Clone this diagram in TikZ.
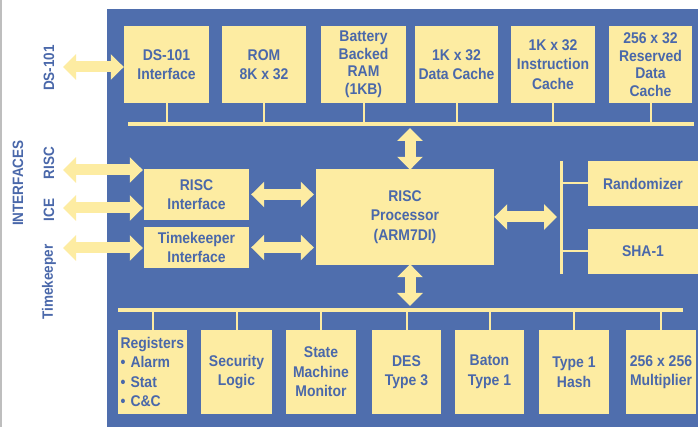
\documentclass[tikz,border=0pt]{standalone}
\usepackage{fontspec}
\setmainfont{Liberation Sans}[FakeStretch=0.9]
\usetikzlibrary{arrows.meta}
\definecolor{panel}{RGB}{79,110,173}
\definecolor{ylw}{RGB}{253,236,162}
\definecolor{txt}{RGB}{74,104,170}
\definecolor{edgegray}{RGB}{190,190,190}
\newcommand\bxfont{\fontsize{15.5pt}{19.5pt}\selectfont\bfseries}
\newcommand\bxtight{\fontsize{15.5pt}{17.5pt}\selectfont\bfseries}
\newcommand\lbfont{\fontsize{15pt}{18pt}\selectfont\bfseries}
\tikzset{
  box/.style={fill=ylw, draw=none, inner sep=0pt, align=center, text=txt, font=\bxfont},
  topbox/.style={box, minimum height=77pt},
  botbox/.style={box, minimum height=84pt},
  lbl/.style={rotate=90, text=txt, font=\lbfont, inner sep=0pt},
  bus/.style={draw=ylw, line width=4.5pt},
  rbus/.style={draw=ylw, line width=3pt},
  stub/.style={draw=ylw, line width=2pt},
  fat/.style={draw=ylw, line width=11pt,
    {Triangle[width=25pt,length=13pt]}-{Triangle[width=25pt,length=13pt]}}
}
\begin{document}
\begin{tikzpicture}[x=1pt,y=-1pt]
\useasboundingbox (0,0) rectangle (698,427);
\fill[white] (0,0) rectangle (698,427);
\fill[edgegray] (0,0) rectangle (1.5,427);
\fill[panel] (107,9) rectangle (698,427);

% top row
\node[topbox, minimum width=85pt] (ds)  at (166.5,64.5) {DS-101\\Interface};
\node[topbox, minimum width=84pt] (rom) at (264,64.5) {ROM\\8K x 32};
\node[topbox, minimum width=85pt, font=\bxtight] (bbr) at (363.5,64.5) {Battery\\Backed\\RAM\\(1KB)};
\node[topbox, minimum width=83pt] (dch) at (456.5,64.5) {1K x 32\\Data Cache};
\node[topbox, minimum width=84pt] (ich) at (553,64.5) {1K x 32\\Instruction\\Cache};
\node[topbox, minimum width=83pt, font=\bxtight] (rdc) at (650.5,64.5) {256 x 32\\Reserved\\Data\\Cache};

\coordinate (tbL) at (128,124);
\coordinate (tbR) at (694,124);
\draw[bus] (tbL) -- (tbR);
\foreach \n in {ds,rom,bbr,dch,ich,rdc} \draw[stub] (\n.south) -- (\n.south |- tbL);

% middle
\node[box, minimum width=105pt, minimum height=51pt] (risci) at (196.5,194.5) {RISC\\Interface};
\node[box, minimum width=105pt, minimum height=41pt] (tki) at (196.5,247.5) {Timekeeper\\Interface};
\node[box, minimum width=178pt, minimum height=96pt] (proc) at (405,217) {RISC\\Processor\\(ARM7DI)};
\node[box, minimum width=110pt, minimum height=45pt] (rnd) at (643,183.5) {Randomizer};
\node[box, minimum width=110pt, minimum height=45pt] (sha) at (643,251.5) {SHA-1};

\coordinate (rbT) at (561,161);
\coordinate (rbB) at (561,274);
\draw[rbus] (rbT) -- (rbB);
\draw[stub] (rnd.west) -- (rnd.west -| rbT);
\draw[stub] (sha.west) -- (sha.west -| rbT);

% bottom row
\node[botbox, minimum width=69pt, text width=64pt, align=left] (reg) at (152.5,372) {Registers\\• Alarm\\• Stat\\• C\&C};
\node[botbox, minimum width=71pt] (sec) at (236.5,372) {Security\\Logic};
\node[botbox, minimum width=70pt] (smm) at (321,372) {State\\Machine\\Monitor};
\node[botbox, minimum width=69pt] (des) at (406.5,372) {DES\\Type 3};
\node[botbox, minimum width=69pt] (bat) at (489.5,372) {Baton\\Type 1};
\node[botbox, minimum width=70pt] (hsh) at (574,372) {Type 1\\Hash};
\node[botbox, minimum width=70pt] (mul) at (661,372) {256 x 256\\Multiplier};

\coordinate (bbL) at (118,310);
\coordinate (bbR) at (683,310);
\draw[bus] (bbL) -- (bbR);
\foreach \n in {reg,sec,smm,des,bat,hsh,mul} \draw[stub] (\n.north) -- (\n.north |- bbL);

% arrows
\coordinate (tA) at (410,128);
\coordinate (bA) at (410,306);
\coordinate (pR) at (557,217);
\draw[fat] (tA) -- ([yshift=-1pt]tA |- proc.north);
\draw[fat] ([yshift=1pt]bA |- proc.south) -- (bA);
\draw[fat] (proc.east) -- (pR);
\draw[fat, shorten <=2pt, shorten >=2pt] (risci.east) -- (risci.east -| proc.west);
\draw[fat, shorten <=2pt, shorten >=2pt] (tki.east) -- (tki.east -| proc.west);

\coordinate (lDS) at (63,67);
\coordinate (lRISC) at (63,170);
\coordinate (lICE) at (63,208);
\coordinate (lTK) at (63,248);
\draw[fat] (lDS) -- (lDS -| ds.west);
\draw[fat, shorten >=1pt] (lRISC) -- (lRISC -| risci.west);
\draw[fat, shorten >=1pt] (lICE) -- (lICE -| risci.west);
\draw[fat, shorten >=1pt] (lTK) -- (lTK -| tki.west);

% labels
\node[lbl] (lds)   at (49,68)  {DS-101};
\node[lbl] (lint)  at (18,183) {INTERFACES};
\node[lbl] (lrisc) at (49,163) {RISC};
\node[lbl] (lice)  at (49,210) {ICE};
\node[lbl] (ltk)   at (49,282) {Timekeeper};
\end{tikzpicture}
\end{document}
